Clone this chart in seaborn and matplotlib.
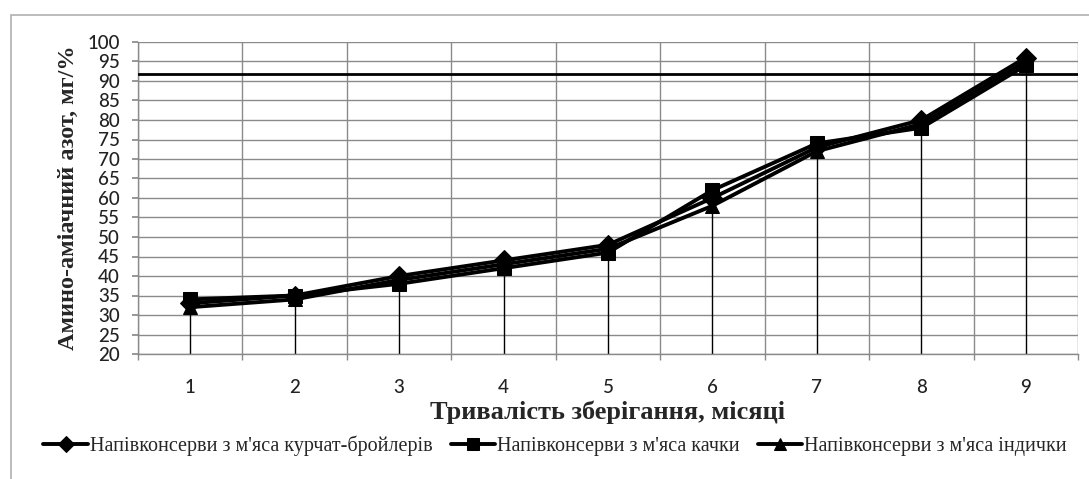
import numpy as np
import pandas as pd
import matplotlib
matplotlib.use("Agg")
import matplotlib.pyplot as plt
import seaborn as sns
from matplotlib.patches import Rectangle

months = [1, 2, 3, 4, 5, 6, 7, 8, 9]
broiler = [33, 35, 40, 44, 48, 60, 73, 80, 96]
duck = [34, 35, 38, 42, 46, 62, 74, 78, 94]
turkey = [32, 34, 39, 43, 47, 58, 72, 79, 95]
series_names = [
    "Напівконсерви з м'яса курчат-бройлерів",
    "Напівконсерви з м'яса качки",
    "Напівконсерви з м'яса індички",
]
threshold = 91.8
y_ticks = list(range(20, 101, 5))

df = pd.DataFrame({
    "month": months * 3,
    "value": broiler + duck + turkey,
    "series": [series_names[0]] * 9 + [series_names[1]] * 9 + [series_names[2]] * 9,
})

sns.set_theme(style="white")
plt.rcParams['font.family'] = ['Lato', 'DejaVu Sans']

fig = plt.figure(figsize=(10.89, 4.79), dpi=100)
ax = fig.add_axes([138/1089, (479-354)/479, (1078-138)/1089, (354-42)/479])

# chart-area border
fig.patches.append(Rectangle((11/1089, -0.1), 1.2, (479-15)/479 + 0.1, transform=fig.transFigure,
                             fill=False, edgecolor="#b0b0b0", lw=1.2, zorder=0))

# drop lines
tops = df.groupby("month")["value"].max()
ax.vlines(tops.index, 20, tops.values, color="black", lw=1.0, zorder=2)

sns.lineplot(data=df, x="month", y="value", hue="series", style="series",
             markers=["D", "s", "^"], dashes=False, palette=["black"] * 3,
             markersize=10, lw=2.8, markeredgecolor="black", ax=ax, zorder=4)

ax.axhline(threshold, color="black", lw=2.0, zorder=3)

ax.set_xlim(0.5, 9.5)
ax.set_ylim(20, 100)
ax.set_yticks(y_ticks)
ax.set_xticks(months)
ax.set_xticks(np.arange(0.5, 9.6, 1.0), minor=True)
ax.grid(False)
ax.yaxis.grid(True, color="#8a8a8a", lw=1.0)
ax.xaxis.grid(True, which="minor", color="#8a8a8a", lw=1.0)
for s in ["top", "right"]:
    ax.spines[s].set_visible(False)
for s in ["left", "bottom"]:
    ax.spines[s].set_color("#8a8a8a")
    ax.spines[s].set_linewidth(1.0)
ax.tick_params(axis="y", which="major", left=True, length=4, color="#8a8a8a",
               labelsize=13.5, pad=9, labelcolor="#222222")
ax.tick_params(axis="x", which="major", bottom=False, labelsize=13.5, pad=12, labelcolor="#222222")
ax.tick_params(axis="x", which="minor", bottom=True, length=4, color="#8a8a8a")
for lab in ax.get_yticklabels() + ax.get_xticklabels():
    lab.set_family(["Lato", "DejaVu Sans"])
    lab.set_fontweight("medium")

ax.set_ylabel("Амино-аміачний азот, мг/%", fontsize=17.5, fontweight="bold",
              family=["Liberation Serif", "DejaVu Serif"], labelpad=6)
ax.set_xlabel("Тривалість зберігання, місяці", fontsize=19, fontweight="bold",
              family=["Liberation Serif", "DejaVu Serif"], labelpad=3)

ax.legend_.remove()
handles, labels = ax.get_legend_handles_labels()
leg = fig.legend(handles, labels, loc="center", bbox_to_anchor=(555/1089, (479-446)/479),
                 ncol=3, frameon=False, handlelength=2.2, handletextpad=0.1,
                 columnspacing=0.9, borderpad=0.1, borderaxespad=0.1,
                 prop={"family": ["Liberation Serif", "DejaVu Serif"], "size": 14.5})
for h in leg.legend_handles:
    h.set_markersize(8)

fig.savefig("out.png", dpi=100)
